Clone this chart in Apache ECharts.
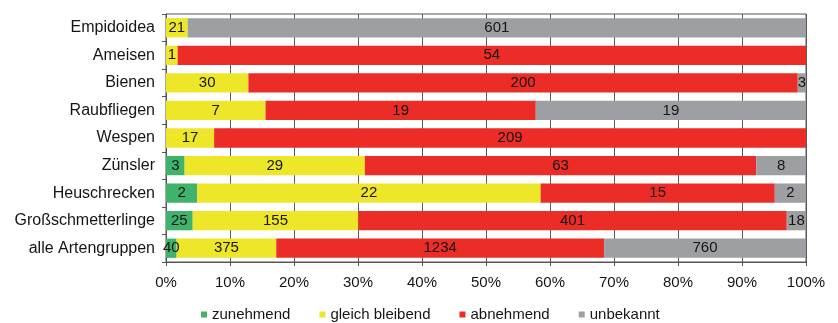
<!DOCTYPE html>
<html>
<head>
<meta charset="utf-8">
<script src="https://cdn.jsdelivr.net/npm/echarts@6/dist/echarts.min.js"></script>
<style>
  html, body { margin: 0; padding: 0; background: #fff; }
  #chart { width: 838px; height: 323px; }
</style>
</head>
<body>
<div id="chart"></div>
<script>
// Species groups (top to bottom) and trend counts per group
const categories = ['Empidoidea', 'Ameisen', 'Bienen', 'Raubfliegen', 'Wespen', 'Zünsler', 'Heuschrecken', 'Großschmetterlinge', 'alle Artengruppen'];
const zunehmend = [0, 0, 0, 0, 0, 3, 2, 25, 40];
const gleichBleibend = [21, 1, 30, 7, 17, 29, 22, 155, 375];
const abnehmend = [0, 54, 200, 19, 209, 63, 15, 401, 1234];
const unbekannt = [601, 0, 3, 19, 0, 8, 2, 18, 760];
const seriesNames = ['zunehmend', 'gleich bleibend', 'abnehmend', 'unbekannt'];
const seriesColors = ['#3fb36c', '#eee629', '#ec2c26', '#9d9fa2'];

const counts = [zunehmend, gleichBleibend, abnehmend, unbekannt];
const totals = categories.map((_, i) => counts.reduce((s, arr) => s + arr[i], 0));

const font = "'Liberation Sans', Arial, sans-serif";
const textColor = '#151515';

const chart = echarts.init(document.getElementById('chart'), null, { renderer: 'canvas' });

const series = counts.map((arr, k) => ({
  name: seriesNames[k],
  type: 'bar',
  stack: 'total',
  barCategoryGap: '30%',
  itemStyle: { color: seriesColors[k] },
  label: {
    show: true,
    position: 'inside',
    color: textColor,
    fontFamily: font,
    fontSize: 15,
    formatter: p => (arr[p.dataIndex] > 0 ? String(arr[p.dataIndex]) : '')
  },
  emphasis: { disabled: true },
  data: arr.map((v, i) => v / totals[i] * 100)
}));

chart.setOption({
  animation: false,
  backgroundColor: '#fff',
  grid: {
    left: 166, right: 32, top: 14, bottom: 61,
    show: true, borderColor: '#555', borderWidth: 1
  },
  legend: {
    left: 196, top: 302,
    icon: 'rect',
    itemWidth: 6, itemHeight: 6, itemGap: 29,
    textStyle: { fontFamily: font, fontSize: 15, color: textColor },
    data: seriesNames
  },
  xAxis: {
    type: 'value',
    min: 0, max: 100, interval: 10,
    axisLine: { show: true, lineStyle: { color: '#555' } },
    axisTick: { show: true, length: 4, lineStyle: { color: '#555' } },
    axisLabel: { formatter: '{value}%', fontFamily: font, fontSize: 15, color: textColor, margin: 13 },
    splitLine: { show: true, lineStyle: { color: '#5a5a5a', width: 1 } }
  },
  yAxis: {
    type: 'category',
    inverse: true,
    data: categories,
    axisLine: { show: true, lineStyle: { color: '#555' } },
    axisTick: { show: true, length: 4, lineStyle: { color: '#555' } },
    axisLabel: { fontFamily: font, fontSize: 16, color: textColor, margin: 11 }
  },
  series: series
});
</script>
</body>
</html>
